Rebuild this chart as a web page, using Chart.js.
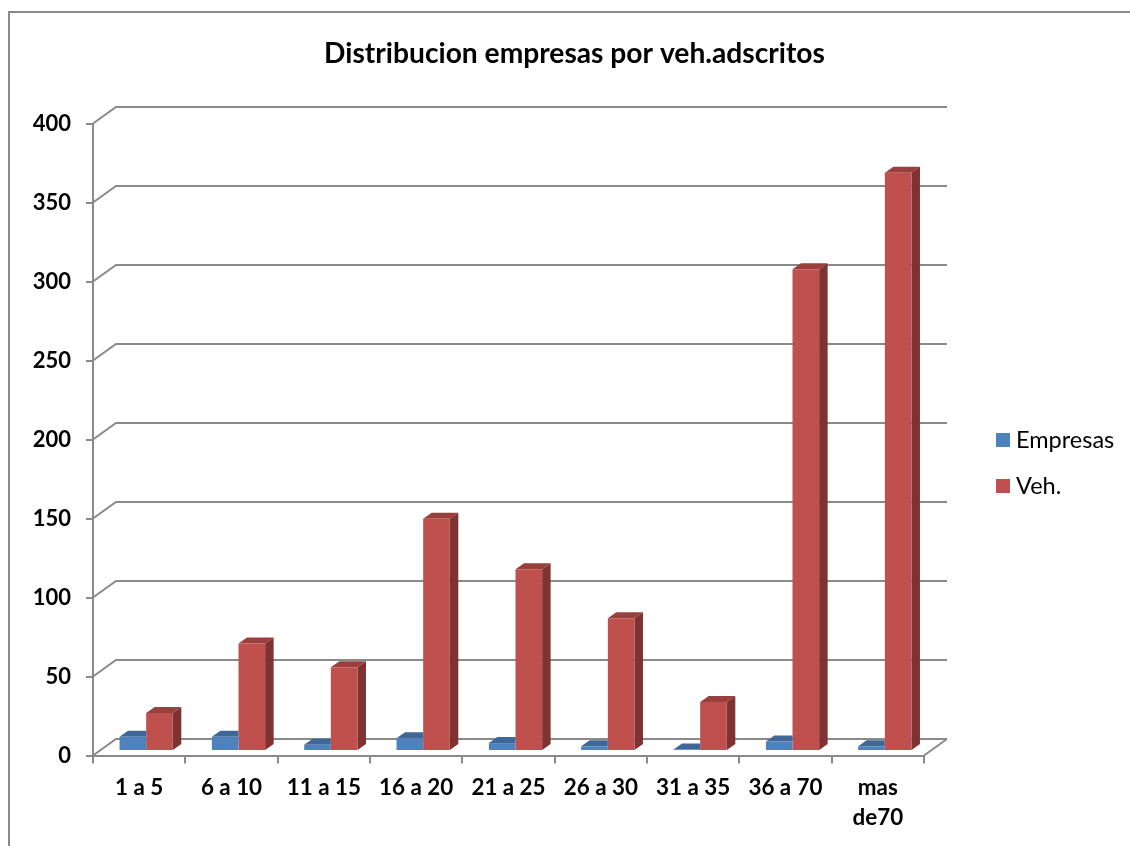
<!DOCTYPE html>
<html>
<head>
<meta charset="utf-8">
<title>Distribucion empresas por veh.adscritos</title>
<script src="https://cdn.jsdelivr.net/npm/chart.js@4"></script>
<style>
  html, body { margin: 0; padding: 0; background: #fff; overflow: hidden; }
  canvas { display: block; }
</style>
</head>
<body>
<canvas id="myChart" width="1130" height="846"></canvas>
<script>
const categories = ['1 a 5', '6 a 10', '11 a 15', '16 a 20', '21 a 25', '26 a 30', '31 a 35', '36 a 70', ['mas', 'de70']];
const empresas = [9, 9, 4, 8, 5, 3, 1, 6, 3];
const vehiculos = [24, 68, 53, 147, 115, 84, 31, 305, 366];

const FONT = 'Lato, sans-serif';
const GREY = '#8a8a8a';
const wall = { dx: 23, dy: 16.5 };      // back wall offset
const barShift = { dx: 7, dy: 4.5 };    // bars stand in the middle of the floor
const barDepth = { dx: 8.5, dy: 6 };

const shades = [
    { front: '#4F81BD', top: '#3F6797', side: '#2F4D71' },
    { front: '#C0504D', top: '#99403D', side: '#7F3331' }
];

function poly(ctx, points, color) {
    ctx.fillStyle = color;
    ctx.beginPath();
    points.forEach((p, i) => i ? ctx.lineTo(p[0], p[1]) : ctx.moveTo(p[0], p[1]));
    ctx.closePath();
    ctx.fill();
}

const fake3d = {
    id: 'fake3d',
    afterLayout(chart) {
        // title is centred on the frame, not on the plot
        chart.titleBlock.left = 19;
        chart.titleBlock.right = 1130;
    },
    beforeDraw(chart) {
        const ctx = chart.ctx;
        ctx.save();
        ctx.fillStyle = '#fff';
        ctx.fillRect(0, 0, chart.width, chart.height);
        ctx.strokeStyle = GREY;
        ctx.lineWidth = 2;
        ctx.beginPath();
        ctx.moveTo(9, chart.height);
        ctx.lineTo(9, 12);
        ctx.lineTo(chart.width, 12);
        ctx.stroke();
        ctx.restore();
    },
    beforeDatasetsDraw(chart) {
        const ctx = chart.ctx;
        const area = chart.chartArea;
        const yScale = chart.scales.y;
        ctx.save();
        ctx.strokeStyle = GREY;
        ctx.lineWidth = 2;
        yScale.ticks.forEach(t => {
            const y = yScale.getPixelForValue(t.value);
            ctx.beginPath();
            ctx.moveTo(area.left, y);
            ctx.lineTo(area.left + wall.dx, y - wall.dy);
            ctx.lineTo(area.right + wall.dx, y - wall.dy);
            ctx.stroke();
        });
        // floor front edge to the back wall on the right
        const y0 = yScale.getPixelForValue(0);
        ctx.beginPath();
        ctx.moveTo(area.right, y0);
        ctx.lineTo(area.right + wall.dx, y0 - wall.dy);
        ctx.stroke();
        ctx.restore();
    },
    beforeDatasetDraw(chart, args) {
        const ctx = chart.ctx;
        const c = shades[args.index];
        // chart.js paints the last dataset first, so blue comes after red:
        // blue gets no side and its top stops where the red bar starts
        const behindRed = args.index === 0;
        ctx.save();
        ctx.translate(barShift.dx, -barShift.dy);
        args.meta.data.forEach(bar => {
            const { x, y, base, width } = bar.getProps(['x', 'y', 'base', 'width'], true);
            const l = x - width / 2, r = x + width / 2;
            const topRight = behindRed ? r : r + barDepth.dx;
            poly(ctx, [[l, y], [l + barDepth.dx, y - barDepth.dy], [topRight, y - barDepth.dy], [r, y]], c.top);
            if (!behindRed) {
                poly(ctx, [[r, y], [r + barDepth.dx, y - barDepth.dy], [r + barDepth.dx, base - barDepth.dy], [r, base]], c.side);
            }
        });
    },
    afterDatasetDraw(chart) {
        chart.ctx.restore();
    },
    afterDraw(chart) {
        // legend sits outside the plot at fixed spot
        const ctx = chart.ctx;
        ctx.save();
        ctx.font = '23.5px ' + FONT;
        ctx.textBaseline = 'middle';
        chart.data.datasets.forEach((ds, i) => {
            const y = 440 + i * 46;
            ctx.fillStyle = ds.backgroundColor;
            ctx.fillRect(996, y - 7, 14, 14);
            ctx.fillStyle = '#000';
            ctx.fillText(ds.label, 1016, y);
        });
        ctx.restore();
    }
};

new Chart(document.getElementById('myChart').getContext('2d'), {
    type: 'bar',
    data: {
        labels: categories,
        datasets: [
            { label: 'Empresas', data: empresas, backgroundColor: '#4F81BD' },
            { label: 'Veh.', data: vehiculos, backgroundColor: '#C0504D' }
        ]
    },
    plugins: [fake3d],
    options: {
        responsive: false,
        animation: false,
        layout: { padding: { left: 19, right: 206, top: 0, bottom: 0 } },
        datasets: { bar: { categoryPercentage: 0.577, barPercentage: 1 } },
        plugins: {
            legend: { display: false },
            tooltip: { enabled: false },
            title: {
                display: true,
                text: 'Distribucion empresas por veh.adscritos',
                color: '#000',
                font: { family: FONT, size: 28.2, weight: 'bold', lineHeight: 1.2 },
                padding: { top: 37, bottom: 52.7 }
            }
        },
        scales: {
            x: {
                afterFit(scale) { scale.height = 90.5; },
                grid: { drawOnChartArea: false, color: GREY, lineWidth: 2, tickLength: 8 },
                border: { color: GREY, width: 2 },
                ticks: {
                    color: '#000',
                    padding: 9,
                    maxRotation: 0,
                    autoSkip: false,
                    font: { family: FONT, size: 22.4, weight: 'bold', lineHeight: 1.36 }
                }
            },
            y: {
                min: 0,
                max: 400,
                afterFit(scale) { scale.width = 74; },
                grid: { drawOnChartArea: false, color: GREY, lineWidth: 2, tickLength: 7 },
                border: { color: GREY, width: 2 },
                ticks: {
                    stepSize: 50,
                    color: '#000',
                    padding: 15,
                    font: { family: FONT, size: 22, weight: 'bold' }
                }
            }
        }
    }
});
</script>
</body>
</html>
